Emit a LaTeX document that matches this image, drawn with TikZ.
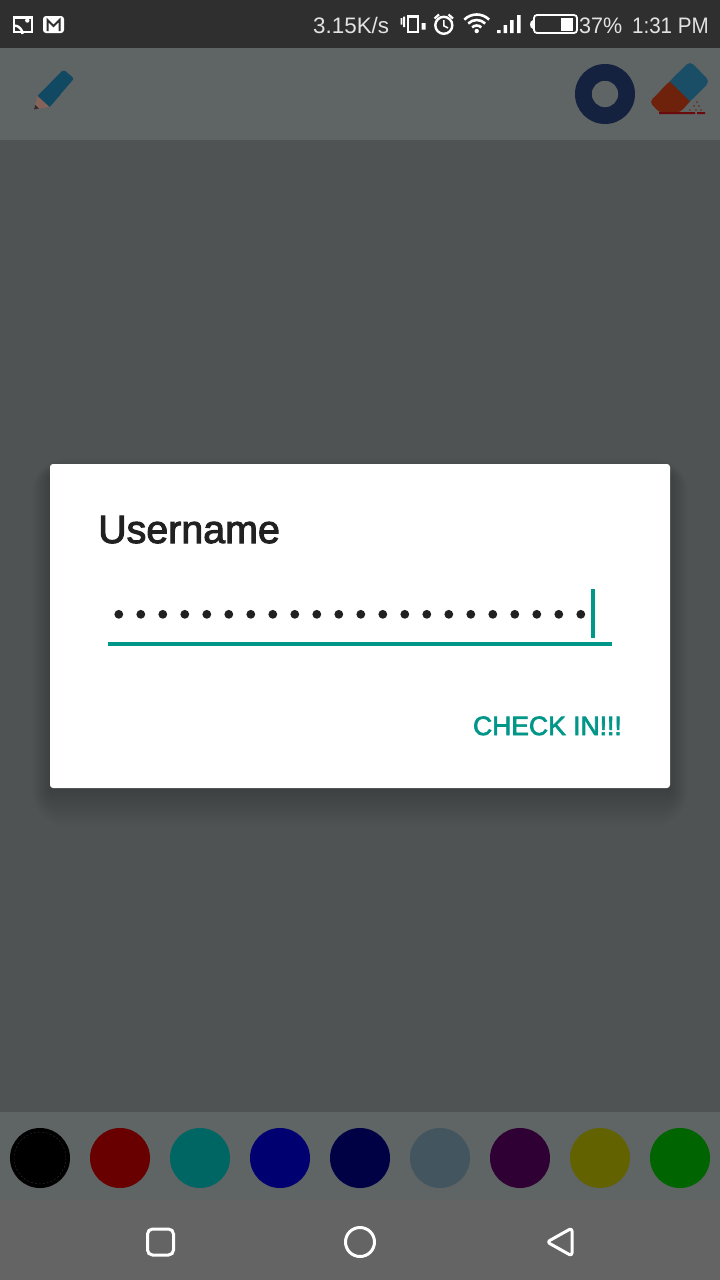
\documentclass[tikz,border=0pt]{standalone}
\usepackage{fontspec}
\setmainfont{Liberation Sans}
\newfontfamily\mediumfont[FakeBold=2.5]{Liberation Sans}
\usetikzlibrary{positioning}
\definecolor{scStatus}{HTML}{2F2F2F}
\definecolor{scBar}{HTML}{5F6464}
\definecolor{scDim}{HTML}{4F5354}
\definecolor{scNav}{HTML}{646464}
\definecolor{scInk}{HTML}{212121}
\definecolor{scTeal}{HTML}{009688}
\definecolor{scStatusText}{HTML}{E2E2E2}
\definecolor{scRing}{HTML}{14213F}
\definecolor{scPencil}{HTML}{114862}
\definecolor{scWood}{HTML}{85625A}
\definecolor{scEraseBlue}{HTML}{194E66}
\definecolor{scEraseRed}{HTML}{6E220C}
\definecolor{scEraseLine}{HTML}{6A0A0C}
\definecolor{swRed}{HTML}{680000}
\definecolor{swTeal}{HTML}{006663}
\definecolor{swBlue}{HTML}{000070}
\definecolor{swNavy}{HTML}{000044}
\definecolor{swSlate}{HTML}{43565F}
\definecolor{swPurple}{HTML}{2E0034}
\definecolor{swOlive}{HTML}{626200}
\definecolor{swGreen}{HTML}{006400}
\tikzset{
  stat/.style={text=scStatusText, inner sep=0pt, font=\fontsize{22.4}{23}\selectfont},
  icn/.style={draw=white, line width=2.4pt},
  nav/.style={draw=white, line width=3pt, rounded corners=5pt},
  swatch/.style={circle, inner sep=0pt, minimum size=60pt},
}

\begin{document}
\begin{tikzpicture}[x=1pt, y=-1pt]
    \useasboundingbox (0,0) rectangle (720,1280);
    % ---------- bands ----------
    \fill[scDim] (0,140) rectangle (720,1112);
    \fill[scStatus] (0,0) rectangle (720,48);
    \fill[scBar] (0,48) rectangle (720,140);
    \fill[scBar] (0,1112) rectangle (720,1200);
    \fill[scNav] (0,1200) rectangle (720,1280);
    % ---------- status bar, left ----------
    \draw[icn] (14.2,17.5) rectangle (32,32);
    \draw[icn] (14,25.5) arc[start angle=-90, end angle=0, radius=8.5];
    \fill[white] (27.3,20.5) circle (2.2);
    \fill[white, rounded corners=3pt] (43,16) rectangle (64,33);
    \draw[scStatus, line width=2pt, line join=miter] (47.5,31) -- (47.5,20) -- (53.5,26) -- (59.5,20) -- (59.5,31);
    % ---------- status bar, right ----------
    \node[stat, anchor=base west] (speed) at (313,33) {3.15K/s};
    \node[stat, anchor=base west, xscale=0.96, transform shape] (level) at (579,33) {37\%};
    \node[stat, anchor=base east, xscale=0.92, transform shape] (clock) at (709,33) {1:31 PM};
    \draw[icn] (408,16.5) rectangle (418,32);
    \fill[white] (400.7,18) rectangle (402.3,24.7) (403.2,16.5) rectangle (405,27) (421.5,23) rectangle (425.5,29.7);
    \draw[icn] (443.8,25.3) circle (8.5);
    \draw[white, line width=1.6pt] (443.8,20) -- (443.8,25.8) -- (448,28);
    \draw[white, line width=2.2pt] (434.5,18.5) -- (439,14.5) (448.5,14.5) -- (453,18.5);
    \foreach \r in {6.5,12,17.5}
        \draw[white, line width=2.6pt] (476.7,32) ++(-135:\r) arc[start angle=-135, end angle=-45, radius=\r];
    \fill[white] (476.7,31) circle (2.2);
    \fill[white] (497,30) rectangle (500.5,33) (503.5,25) rectangle (507,33) (510,20) rectangle (513.5,33) (517,15) rectangle (520.5,33);
    \draw[icn, line width=1.8pt, rounded corners=3pt] (534,15) rectangle (577,33);
    \fill[white] (561,17.5) rectangle (573,30.5);
    \fill[white] (533,20) .. controls (529,21) and (529,28) .. (533,29) -- cycle;
    % ---------- tools ----------
    \fill[scPencil, rounded corners=2pt] (37.5,96) -- (63.5,69.5) -- (74,78.5) -- (49.5,107) -- cycle;
    \fill[scPencil] (37.5,96) -- (50,84) -- (60,95) -- (49.5,107) -- cycle;
    \fill[scWood] (37.5,96) -- (34,109.5) -- (49.5,107) -- cycle;
    \fill[scStatus] (35.3,105) -- (34,109.5) -- (38.8,108.5) -- cycle;
    \fill[scRing, even odd rule] (605,94) circle (30) (605,94) circle (13.3);
    \fill[scEraseBlue, rounded corners=5pt] (669.5,81.5) -- (690,61) -- (710,81.5) -- (690,101.5) -- cycle;
    \fill[scEraseBlue] (669.5,81.5) -- (678,73) -- (698,93) -- (690,101.5) -- cycle;
    \fill[scEraseRed, rounded corners=4pt] (669.5,81.5) -- (649.5,102) -- (660,113) -- (679,113) -- (690,101.5) -- cycle;
    \fill[scEraseRed] (669.5,81.5) -- (662,89) -- (682,110) -- (690,101.5) -- cycle;
    \fill[scEraseLine] (659,112) rectangle (695,114) (697,112) rectangle (705,114);
    \foreach \px/\py in {697/102,694/106,699/106,690/110,696/110,701/110}
        \fill[scEraseRed] (\px,\py) circle (0.9);
    % ---------- dialog ----------
    \foreach \s in {36,34,...,0}
        \fill[black, opacity=0.012, rounded corners=\s pt] (50-\s/2,464+12-\s/2) rectangle (670+\s/2,788+2+\s);
    \fill[white, rounded corners=3pt] (50,464) rectangle (670,788);
    \node[anchor=base west, inner sep=0pt, text=scInk, font=\mediumfont\fontsize{39.4}{39}\selectfont] (title) at (98,543) {Username};
    \foreach \k in {0,...,21}
        \fill[scInk] (118.8+22*\k,614.3) circle (4.4);
    \fill[scTeal] (591,589) rectangle (595,638);
    \fill[scTeal] (108,642) rectangle (612,646);
    \node[anchor=base east, inner sep=0pt, text=scTeal, font=\mediumfont\fontsize{26.5}{27}\selectfont] (checkin) at (622,735) {CHECK IN!!!};
    % ---------- colour row ----------
    \foreach \c [count=\i from 0] in {black,swRed,swTeal,swBlue,swNavy,swSlate,swPurple,swOlive,swGreen}
        \node[swatch, fill=\c] (sw\i) at (40+80*\i,1158) {};
    \draw[scStatus, line width=0.4pt, dash pattern=on 2pt off 2pt] (40,1158) circle (26);
    % ---------- navigation ----------
    \draw[nav] (147.5,1229) rectangle (173.5,1255);
    \draw[nav] (360,1242) circle (14.5);
    \draw[nav, line join=round, rounded corners=3pt] (547,1242) -- (572,1228) -- (572,1256) -- cycle;
\end{tikzpicture}
\end{document}
